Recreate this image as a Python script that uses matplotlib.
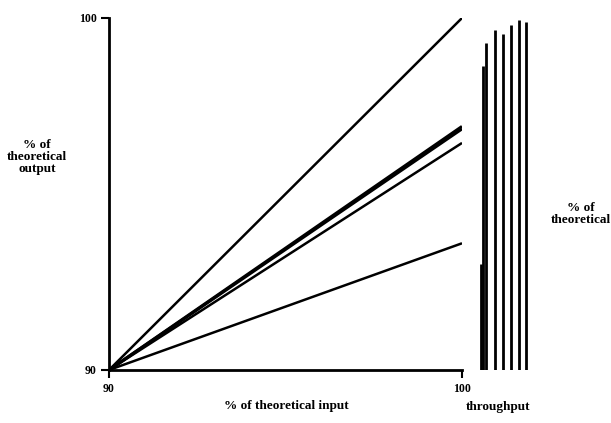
import matplotlib
matplotlib.use("Agg")
import matplotlib.pyplot as plt

# end values (at 100 % input) of the lines starting at 90/90
x_start, x_end = 90, 100
y_start = 90
line_ends = [100.0, 96.92, 96.85, 96.45, 93.6]
line_widths = [1.8, 2.2, 2.2, 1.8, 1.8]

# throughput bars (position, top value)
tp_pos = [-0.25, 0.0, 0.45, 1.55, 2.65, 3.65, 4.6, 5.6]
tp_top = [93.0, 98.65, 99.3, 99.65, 99.55, 99.8, 99.95, 99.9]

plt.rcParams['font.family'] = ['Liberation Serif', 'DejaVu Serif']
plt.rcParams['font.weight'] = 'bold'

fig = plt.figure(figsize=(6.11, 4.23), dpi=100)
W, H = 611, 423

def box(x0, y0, x1, y1):
    return [x0 / W, 1 - y1 / H, (x1 - x0) / W, (y1 - y0) / H]

ax = fig.add_axes(box(109, 18, 462, 370))
for end, lw in zip(line_ends, line_widths):
    ax.plot([x_start, x_end], [y_start, end], color='black', lw=lw,
            solid_capstyle='butt')
ax.set_xlim(90, 100)
ax.set_ylim(90, 100)
ax.spines['top'].set_visible(False)
ax.spines['right'].set_visible(False)
ax.spines['left'].set_linewidth(2)
ax.spines['bottom'].set_linewidth(2)
ax.set_xticks([90, 100])
ax.set_yticks([90, 100])
ax.set_xticklabels(['90', '100'], fontsize=8.5, fontweight='bold')
ax.set_yticklabels(['90', '100'], fontsize=8.5, fontweight='bold')
ax.tick_params(direction='out', length=6, width=1.5, pad=3)

ax2 = fig.add_axes(box(478, 18, 528, 370))
ax2.vlines(tp_pos, 90, tp_top, color='black', lw=2)
ax2.set_xlim(-0.6, 5.8)
ax2.set_ylim(90, 100)
ax2.axis('off')

fs = 9.5
fig.text(37 / W, 1 - 157 / H, '% of\ntheoretical\noutput', ha='center',
         va='center', fontsize=fs, fontweight='bold', linespacing=0.95)
fig.text(286 / W, 1 - 406 / H, '% of theoretical input', ha='center',
         va='center', fontsize=fs, fontweight='bold')
fig.text(498 / W, 1 - 407 / H, 'throughput', ha='center',
         va='center', fontsize=fs, fontweight='bold')
fig.text(581 / W, 1 - 214 / H, '% of\ntheoretical', ha='center',
         va='center', fontsize=fs, fontweight='bold', linespacing=0.95)

fig.savefig('out.png', dpi=100)
